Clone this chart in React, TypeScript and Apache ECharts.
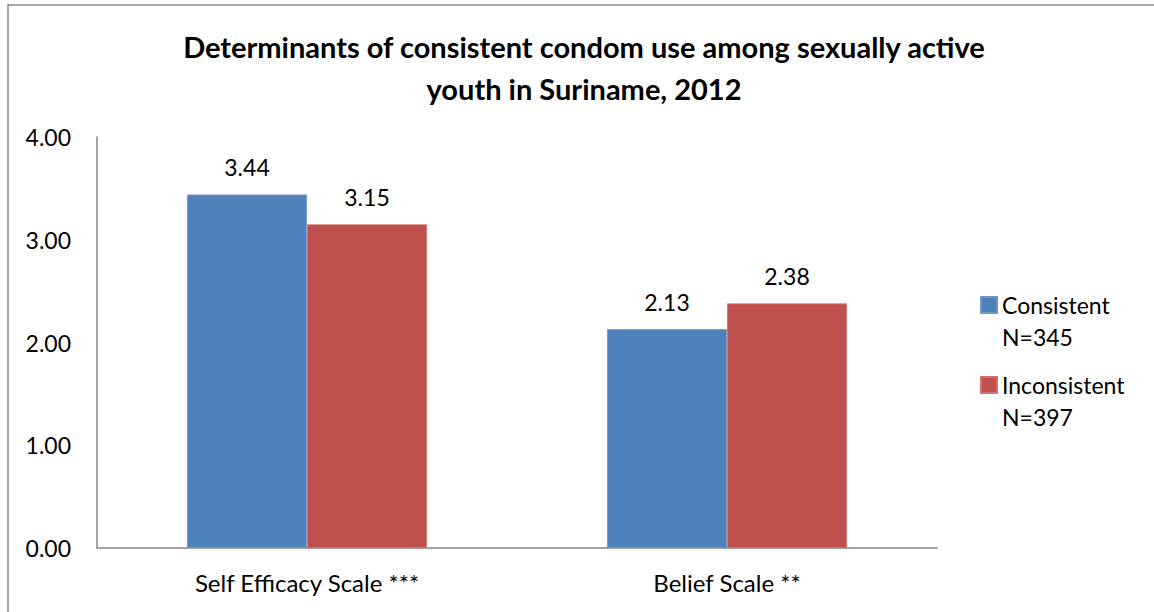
import React, { useEffect, useRef } from "react";
import * as echarts from "echarts";

const categories = ["Self Efficacy Scale ***", "Belief Scale **"];
const seriesNames = ["Consistent", "Inconsistent"];
const seriesCounts = ["N=345", "N=397"];
const consistentValues = [3.44, 2.13];
const inconsistentValues = [3.15, 2.38];
const yTicks = [0, 1, 2, 3, 4];
const titleText = "Determinants of consistent condom use among sexually active\nyouth in Suriname, 2012";

const FONT = "Lato";

export default function App() {
  const ref = useRef<HTMLDivElement>(null);
  useEffect(() => {
    document.body.style.margin = "0";
    const chart = echarts.init(ref.current!, null, { renderer: "svg" });
    const labelStyle = {
      show: true,
      position: "top" as const,
      distance: 16,
      color: "#000",
      fontFamily: FONT,
      fontSize: 23,
      formatter: (p: any) => Number(p.value).toFixed(2),
    };
    const legendCommon = {
      orient: "vertical" as const,
      left: 980,
      padding: 0,
      icon: "rect",
      itemWidth: 16,
      itemHeight: 16,
      itemGap: 0,
      textStyle: { color: "#000", fontFamily: FONT, fontSize: 23, lineHeight: 32 },
      formatter: (name: string) => {
        const i = seriesNames.indexOf(name);
        return "\n" + name + "\n" + seriesCounts[i];
      },
    };
    chart.setOption({
      animation: false,
      backgroundColor: "#fff",
      legend: [
        { ...legendCommon, top: 257, data: [seriesNames[0]] },
        { ...legendCommon, top: 337, data: [seriesNames[1]] },
      ],
      grid: { left: 97, right: 217, top: 137, bottom: 64, containLabel: false },
      xAxis: {
        type: "category",
        data: categories,
        axisLine: { show: true, lineStyle: { color: "#868686", width: 1.5 } },
        axisTick: { show: false },
        axisLabel: { color: "#000", fontFamily: FONT, fontSize: 24, margin: 22 },
      },
      yAxis: {
        type: "value",
        min: yTicks[0],
        max: yTicks[yTicks.length - 1],
        interval: 1,
        axisLine: { show: true, lineStyle: { color: "#868686", width: 1.5 } },
        axisTick: { show: false },
        splitLine: { show: false },
        axisLabel: {
          color: "#000",
          fontFamily: FONT,
          fontSize: 23,
          margin: 26,
          formatter: (v: number) => v.toFixed(2),
        },
      },
      series: [
        {
          name: seriesNames[0],
          type: "bar",
          data: consistentValues,
          barWidth: 120,
          barGap: "0%",
          itemStyle: { color: "#4F81BD", borderColor: "#6F97CC", borderWidth: 0.8 },
          label: labelStyle,
        },
        {
          name: seriesNames[1],
          type: "bar",
          data: inconsistentValues,
          barWidth: 120,
          barGap: "0%",
          itemStyle: { color: "#C0504D", borderColor: "#D07370", borderWidth: 0.8 },
          label: labelStyle,
        },
      ],
      graphic: [
        {
          type: "text",
          silent: true,
          x: 584,
          y: 25,
          style: {
            text: titleText,
            fill: "#000",
            fontFamily: FONT,
            fontSize: 29,
            fontWeight: "bold",
            lineHeight: 42,
            textAlign: "center",
            textVerticalAlign: "top",
          },
        },
        {
          type: "rect",
          silent: true,
          z: 100,
          shape: { x: 8, y: 5, width: 1300, height: 800 },
          style: { fill: "none", stroke: "#898989", lineWidth: 1.5 },
        },
      ],
    });
    return () => chart.dispose();
  }, []);
  return <div ref={ref} style={{ width: 1154, height: 612 }} />;
}
